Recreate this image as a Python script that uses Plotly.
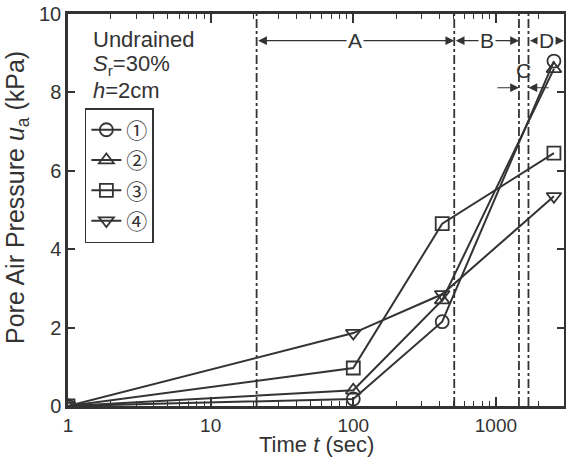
import numpy as np
import plotly.graph_objects as go

# ---- data ----
time_s = [1, 100, 420, 2550]
s1 = [0.0, 0.18, 2.15, 8.8]
s2 = [0.0, 0.4, 2.7, 8.6]
s3 = [0.0, 0.97, 4.65, 6.45]
s4 = [0.0, 1.86, 2.85, 5.35]
series_names = ["①", "②", "③", "④"]
series_symbols = ["circle-open", "triangle-up-open", "square-open", "triangle-down-open"]
stage_bounds = [21, 510, 1450, 1690]
stage_labels = ["A", "B", "C", "D"]
x_max = 3000
x_ticks = [1, 10, 100, 1000]
x_minor = [m * 10 ** d for d in range(4) for m in range(2, 10) if m * 10 ** d < x_max]
y_ticks = [0, 2, 4, 6, 8, 10]

INK = "#333333"
FONT = "Liberation Sans, Arial, sans-serif"

fig = go.Figure()

# stage boundaries (dash-dot)
for b in stage_bounds:
    fig.add_trace(go.Scatter(x=[b, b], y=[0, 10], mode="lines",
                             line=dict(color=INK, width=1.8, dash="dashdot"),
                             showlegend=False, hoverinfo="skip"))

for ys, name, sym in zip([s1, s2, s3, s4], series_names, series_symbols):
    fig.add_trace(go.Scatter(
        x=time_s, y=ys, name=name, mode="lines+markers",
        line=dict(color=INK, width=2),
        marker=dict(symbol=sym, size=13, color=INK, line=dict(width=1.8, color=INK)),
    ))

L = np.log10
ann = []
y_arrow = 9.32
arrow_style = dict(arrowhead=2, arrowsize=1.6, arrowwidth=1.1, arrowcolor=INK)
segments = [(stage_bounds[0], stage_bounds[1], stage_labels[0]),
            (stage_bounds[1], stage_bounds[2], stage_labels[1]),
            (stage_bounds[3], x_max, stage_labels[3])]
for a, b, lab in segments:
    ann.append(dict(x=L(b), y=y_arrow, ax=L(a), ay=y_arrow, xref="x", yref="y",
                    axref="x", ayref="y", text="", showarrow=True,
                    arrowside="end+start", **arrow_style))
    xm = (L(a) + L(b)) / 2
    ann.append(dict(x=xm, y=y_arrow, xref="x", yref="y", text=lab, showarrow=False,
                    bgcolor="white", borderpad=1,
                    font=dict(size=21, color=INK, family=FONT)))
# C: inward arrows
ann.append(dict(x=L(stage_bounds[2]), y=8.12, ax=L(1000), ay=8.12, xref="x", yref="y",
                axref="x", ayref="y", text="", showarrow=True, **arrow_style))
ann.append(dict(x=L(stage_bounds[3]), y=8.12, ax=L(2400), ay=8.12, xref="x", yref="y",
                axref="x", ayref="y", text="", showarrow=True, **arrow_style))
ann.append(dict(x=(L(stage_bounds[2]) + L(stage_bounds[3])) / 2, y=8.57, xref="x", yref="y",
                text=stage_labels[2], showarrow=False,
                font=dict(size=21, color=INK, family=FONT)))

# condition text
for i, t in enumerate(["Undrained", "<i>S</i><sub>r</sub>=30%", "<i>h</i>=2cm"]):
    ann.append(dict(x=0.046, y=0.934 - i * 0.064, xref="paper", yref="paper",
                    xanchor="left", yanchor="middle", text=t, showarrow=False,
                    font=dict(size=22, color=INK, family=FONT)))

# axis titles as annotations for precise placement
ann.append(dict(x=0.502, y=-0.098, xref="paper", yref="paper", xanchor="center",
                yanchor="middle", text="Time <i>t</i> (sec)", showarrow=False,
                font=dict(size=22, color=INK, family=FONT)))
ann.append(dict(x=-0.103, y=0.533, xref="paper", yref="paper", xanchor="center",
                yanchor="middle", textangle=-90, showarrow=False,
                text="Pore Air Pressure <i>u</i><sub>a</sub> (kPa)",
                font=dict(size=25, color=INK, family=FONT)))

fig.update_layout(
    width=566, height=457,
    margin=dict(l=68, r=2, t=14, b=51),
    paper_bgcolor="white", plot_bgcolor="white",
    font=dict(family=FONT, color=INK, size=20),
    annotations=ann,
    legend=dict(x=0.034, y=0.76, xanchor="left", yanchor="top",
                bordercolor=INK, borderwidth=1.5, bgcolor="white",
                font=dict(size=21, color=INK, family="Noto Sans CJK JP"),
                tracegroupgap=0, itemwidth=30),
    showlegend=True,
)
fig.update_xaxes(type="log", range=[0, L(x_max)], tickvals=x_ticks,
                 ticktext=[str(v) for v in x_ticks],
                 showline=True, linecolor=INK, linewidth=2.5, mirror="ticks",
                 ticks="inside", ticklen=9, tickwidth=1.5, tickcolor=INK,
                 minor=dict(tickvals=x_minor, ticks="inside", ticklen=5, tickwidth=1.2,
                            tickcolor=INK, showgrid=False),
                 showgrid=False, zeroline=False,
                 tickfont=dict(size=19), automargin=False)
fig.update_yaxes(range=[0, 10], tickvals=y_ticks,
                 showline=True, linecolor=INK, linewidth=2.5, mirror="ticks",
                 ticks="inside", ticklen=7, tickwidth=1.5, tickcolor=INK,
                 showgrid=False, zeroline=False,
                 tickfont=dict(size=20), automargin=False)

fig.write_html("out.html")
